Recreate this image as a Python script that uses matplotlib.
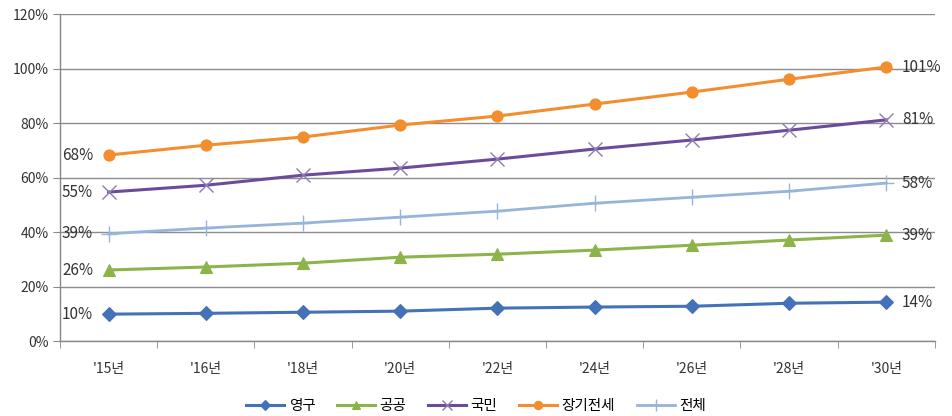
import matplotlib
matplotlib.use("Agg")
import matplotlib.pyplot as plt
from matplotlib.ticker import FuncFormatter, FixedLocator

plt.rcParams['font.family'] = ['Noto Sans CJK KR', 'DejaVu Sans']

years = ["'15년", "'16년", "'18년", "'20년", "'22년", "'24년", "'26년", "'28년", "'30년"]
yeonggu = [9.9, 10.2, 10.6, 11.0, 12.1, 12.5, 12.8, 13.9, 14.3]
gonggong = [26.1, 27.2, 28.6, 30.8, 31.9, 33.4, 35.2, 37.1, 38.9]
gukmin = [54.7, 57.2, 60.9, 63.5, 66.8, 70.5, 73.8, 77.4, 81.2]
janggi = [68.3, 71.9, 74.9, 79.3, 82.6, 87.0, 91.4, 96.1, 100.6]
jeonche = [39.4, 41.5, 43.3, 45.5, 47.7, 50.6, 52.8, 55.0, 58.0]
first_labels = ["10%", "26%", "55%", "68%", "39%"]
last_labels = ["14%", "39%", "81%", "101%", "58%"]
names = ["영구", "공공", "국민", "장기전세", "전체"]

series = [yeonggu, gonggong, gukmin, janggi, jeonche]
colors = ['#4472b8', '#8cb44a', '#6b4c9a', '#f28e2e', '#97b4d9']
mcolors = ['#4472b8', '#8cb44a', '#8f7ab5', '#f28e2e', '#97b4d9']
markers = ['D', '^', 'x', 'o', '+']
msizes = [7, 8, 10, 8, 11]
lws = [2.2, 2.2, 2.2, 2.2, 2.0]

fig = plt.figure(figsize=(9.52, 4.16), dpi=100)
ax = fig.add_axes([0.063, 0.180, 0.919, 0.786])

x = list(range(len(years)))
for s, c, mc, m, ms, lw, nm, fl, ll in zip(series, colors, mcolors, markers, msizes, lws, names,
                                           first_labels, last_labels):
    ax.plot(x, s, color=c, marker=m, markersize=ms, linewidth=lw, label=nm,
            markeredgewidth=1.0 if m in ('x', '+') else 0.8, markeredgecolor=mc, zorder=3)
    ax.text(x[0] - 0.16, s[0], fl, ha='right', va='center', fontsize=11, color='#333333')
    ax.text(x[-1] + 0.16, s[-1], ll, ha='left', va='center', fontsize=11, color='#333333')

ax.set_xlim(-0.5, len(years) - 0.5)
ax.set_ylim(0, 120)
ax.set_yticks([0, 20, 40, 60, 80, 100, 120])
ax.yaxis.set_major_formatter(FuncFormatter(lambda v, p: f"{int(v)}%"))
ax.set_xticks(x)
ax.set_xticklabels(years)
ax.xaxis.set_minor_locator(FixedLocator([i - 0.5 for i in range(len(years) + 1)]))
ax.tick_params(axis='x', which='major', length=0, pad=15, labelsize=10, labelcolor='#333333')
ax.tick_params(axis='x', which='minor', length=5, color='#888888', direction='out')
ax.tick_params(axis='y', length=5, color='#888888', labelsize=10, labelcolor='#333333', pad=3)

ax.grid(axis='y', color='#8c8c8c', linewidth=1)
ax.set_axisbelow(True)
for sp in ['top', 'right']:
    ax.spines[sp].set_visible(False)
for sp in ['left', 'bottom']:
    ax.spines[sp].set_color('#888888')
    ax.spines[sp].set_linewidth(1)

fig.legend(loc='lower center', bbox_to_anchor=(0.5, -0.025), ncol=5, frameon=False,
           fontsize=10.5, handlelength=2.6, columnspacing=1.5, handletextpad=0.3,
           markerscale=0.75)

fig.savefig('out.png', dpi=100)
